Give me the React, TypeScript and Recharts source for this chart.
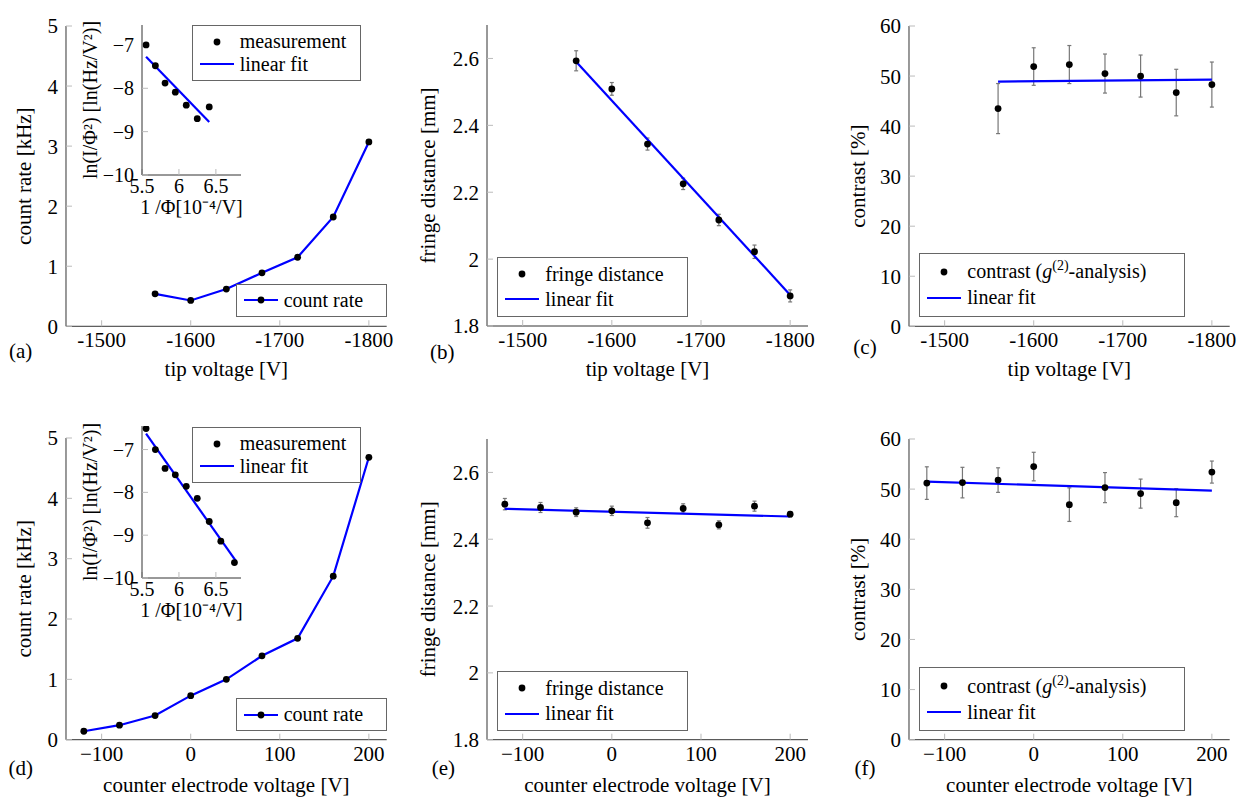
import React from "react";
import {
  ComposedChart,
  ErrorBar,
  Label,
  Legend,
  Line,
  Scatter,
  XAxis,
  YAxis,
} from "recharts";

const FONT = "Liberation Serif";
const BLUE = "#0000ff";

// top row: tip voltage scan
const tipVoltage = [-1560, -1600, -1640, -1680, -1720, -1760, -1800];
const tipCountRate = [0.54, 0.43, 0.62, 0.89, 1.15, 1.82, 3.07];
const tipFringe = [2.593, 2.509, 2.344, 2.225, 2.117, 2.022, 1.89];
const tipFringeErr = [0.03, 0.019, 0.018, 0.017, 0.017, 0.02, 0.018];
const tipFringeFitX = [-1560, -1800];
const tipFringeFitY = [2.59, 1.893];
const tipContrast = [43.5, 51.9, 52.3, 50.5, 50.0, 46.7, 48.3];
const tipContrastErr = [5.0, 3.75, 3.8, 3.9, 4.2, 4.65, 4.5];
const tipContrastFitX = [-1560, -1800];
const tipContrastFitY = [48.9, 49.3];

// Fowler-Nordheim inset, tip scan
const tipInvPhi = [5.555, 5.681, 5.812, 5.951, 6.099, 6.248, 6.41];
const tipLnI = [-7.0, -7.48, -7.88, -8.09, -8.39, -8.7, -8.43];
const tipLnFitX = [5.555, 6.41];
const tipLnFitY = [-7.27, -8.78];

// bottom row: counter electrode scan
const ceVoltage = [-120, -80, -40, 0, 40, 80, 120, 160, 200];
const ceCountRate = [0.14, 0.24, 0.4, 0.73, 1.0, 1.39, 1.68, 2.71, 4.68];
const ceFringe = [2.505, 2.495, 2.481, 2.485, 2.449, 2.492, 2.443, 2.499, 2.475];
const ceFringeErr = [0.017, 0.015, 0.013, 0.014, 0.016, 0.014, 0.012, 0.015, 0.008];
const ceFringeFitX = [-120, 200];
const ceFringeFitY = [2.491, 2.468];
const ceContrast = [51.2, 51.3, 51.8, 54.5, 46.9, 50.3, 49.1, 47.3, 53.4];
const ceContrastErr = [3.25, 3.05, 2.45, 2.85, 3.35, 3.0, 2.9, 2.8, 2.2];
const ceContrastFitX = [-120, 200];
const ceContrastFitY = [51.5, 49.7];

// Fowler-Nordheim inset, counter electrode scan
const ceInvPhi = [5.555, 5.681, 5.812, 5.951, 6.099, 6.248, 6.41, 6.567, 6.751];
const ceLnI = [-6.51, -7.0, -7.44, -7.59, -7.86, -8.14, -8.68, -9.14, -9.64];
const ceLnFitX = [5.555, 6.77];
const ceLnFitY = [-6.63, -9.6];

const tipTicks = [-1500, -1600, -1700, -1800];
const ceTicks = [-100, 0, 100, 200];
const rateTicks = [0, 1, 2, 3, 4, 5];
const fringeTicks = [1.8, 2, 2.2, 2.4, 2.6];
const contrastTicks = [0, 10, 20, 30, 40, 50, 60];
const invPhiTicks = [5.5, 6, 6.5];
const lnTicks = [-10, -9, -8, -7];

const zip = (xs: number[], ys: number[], es?: number[]) =>
  xs.map((x, i) => ({ x, y: ys[i], e: es ? es[i] : 0 }));

const plain = (v: number) => String(v);
const minus = (v: number) => (v < 0 ? `\u2212${-v}` : String(v));

type Mark = "dot" | "line" | "linedot";
type Row = { label: React.ReactNode; mark: Mark };

const g2 = (
  <>
    contrast (<i>g</i>
    <sup style={{ fontSize: "0.7em", lineHeight: 0 }}>(2)</sup>-analysis)
  </>
);
const fitRows: Row[] = [
  { label: "measurement", mark: "dot" },
  { label: "linear fit", mark: "line" },
];

function BoxLegend({ rows, w, h, rowH }: { rows: Row[]; w: number; h: number; rowH: number }) {
  return (
    <div
      style={{
        width: w,
        height: h,
        boxSizing: "border-box",
        border: "1px solid #666",
        background: "#fff",
        display: "flex",
        flexDirection: "column",
        justifyContent: "center",
        fontFamily: FONT,
        fontSize: 20,
        color: "#000",
      }}
    >
      {rows.map((r, i) => (
        <div key={i} style={{ display: "flex", alignItems: "center", height: rowH }}>
          <svg width={47} height={12} style={{ flex: "none" }}>
            {r.mark !== "dot" && (
              <line x1={7} x2={41} y1={6} y2={6} stroke={BLUE} strokeWidth={2.2} />
            )}
            {r.mark !== "line" && <circle cx={24} cy={6} r={3.4} fill="#000" />}
          </svg>
          <span style={{ whiteSpace: "nowrap" }}>{r.label}</span>
        </div>
      ))}
    </div>
  );
}

const PAD_L = 70;
const PAD_T = 12;
const PAD_R = 30;
const PAD_B = 70;

type PanelProps = {
  plot: [number, number, number, number];
  xDomain: [number, number];
  yDomain: [number, number];
  xTicks: number[];
  yTicks: number[];
  fmtX: (v: number) => string;
  fmtY: (v: number) => string;
  reversed?: boolean;
  xTickGap?: number;
  fontSize?: number;
  xLabel: string;
  yLabel: string;
  xLabelY: number;
  yLabelX: number;
  legend: { at: [number, number, number, number]; rows: Row[]; rowH: number };
  children: React.ReactNode;
};

function Panel(p: PanelProps) {
  const [x0, y0, x1, y1] = p.plot;
  const left = x0 - PAD_L;
  const top = y0 - PAD_T;
  const width = PAD_L + (x1 - x0) + PAD_R;
  const height = PAD_T + (y1 - y0) + PAD_B;
  const [lx, ly, lw, lh] = p.legend.at;
  const fs = p.fontSize ?? 21;
  const textStyle = { fontFamily: FONT, fontSize: fs, fill: "#000" };
  return (
    <div style={{ position: "absolute", left, top }}>
      <ComposedChart
        width={width}
        height={height}
        margin={{ top: PAD_T, right: PAD_R, bottom: 0, left: 0 }}
      >
        <XAxis
          type="number"
          dataKey="x"
          domain={p.xDomain}
          ticks={p.xTicks}
          interval={0}
          reversed={p.reversed}
          allowDataOverflow
          height={PAD_B}
          stroke="#333"
          tickSize={-6}
          tickMargin={p.xTickGap ?? 12}
          tickLine={{ stroke: "#bbb" }}
          tick={textStyle}
          tickFormatter={p.fmtX}
        >
          <Label
            value={p.xLabel}
            position="insideBottom"
            offset={top + height - (p.xLabelY + fs * 0.25)}
            style={textStyle}
          />
        </XAxis>
        <YAxis
          type="number"
          domain={p.yDomain}
          ticks={p.yTicks}
          interval={0}
          allowDataOverflow
          width={PAD_L}
          stroke="#333"
          tickSize={-6}
          tickMargin={14}
          tickLine={{ stroke: "#bbb" }}
          tick={textStyle}
          tickFormatter={p.fmtY}
        >
          <Label
            value={p.yLabel}
            angle={-90}
            position="insideLeft"
            offset={p.yLabelX - left}
            style={{ ...textStyle, textAnchor: "middle" }}
          />
        </YAxis>
        <Legend
          layout="vertical"
          align="center"
          verticalAlign="middle"
          wrapperStyle={{ left: lx - left, top: ly - top, width: lw, height: lh }}
          content={() => (
            <BoxLegend rows={p.legend.rows} w={lw} h={lh} rowH={p.legend.rowH} />
          )}
        />
        {p.children}
      </ComposedChart>
    </div>
  );
}

const dotShape = (props: any) => <circle cx={props.cx} cy={props.cy} r={3.4} fill="#000" />;

function measured(data: { x: number; y: number; e: number }[], withErr: boolean) {
  return (
    <Scatter data={data} dataKey="y" shape={dotShape} isAnimationActive={false}>
      {withErr && (
        <ErrorBar
          dataKey="e"
          direction="y"
          width={2}
          stroke="#777"
          strokeWidth={1.2}
          isAnimationActive={false}
        />
      )}
    </Scatter>
  );
}

function fit(data: { x: number; y: number }[]) {
  return (
    <Line
      data={data}
      dataKey="y"
      type="linear"
      stroke={BLUE}
      strokeWidth={2.2}
      dot={false}
      isAnimationActive={false}
    />
  );
}

function rateLine(data: { x: number; y: number }[]) {
  return (
    <Line
      data={data}
      dataKey="y"
      type="linear"
      stroke={BLUE}
      strokeWidth={2.2}
      dot={{ r: 3.4, fill: "#000", stroke: "#000", strokeWidth: 0 }}
      isAnimationActive={false}
    />
  );
}

function Tag({ text, x, y }: { text: string; x: number; y: number }) {
  return (
    <div
      style={{
        position: "absolute",
        left: x,
        top: y,
        transform: "translate(-50%, -50%)",
        fontFamily: FONT,
        fontSize: 21,
      }}
    >
      {text}
    </div>
  );
}

export default function App() {
  const tipX: [number, number] = [-1820, -1460];
  const ceX: [number, number] = [-140, 220];
  return (
    <div
      style={{
        position: "absolute",
        left: 0,
        top: 0,
        width: 1244,
        height: 806,
        background: "#fff",
        overflow: "hidden",
      }}
    >
      {/* (a) count rate vs tip voltage */}
      <Panel
        plot={[66, 25.7, 386.7, 326]}
        xDomain={tipX}
        yDomain={[0, 5]}
        xTicks={tipTicks}
        yTicks={rateTicks}
        fmtX={plain}
        fmtY={plain}
        reversed
        xLabel="tip voltage [V]"
        yLabel="count rate [kHz]"
        xLabelY={370}
        yLabelX={24}
        legend={{ at: [235.7, 284.3, 151, 32.4], rows: [{ label: "count rate", mark: "linedot" }], rowH: 24 }}
      >
        {rateLine(zip(tipVoltage, tipCountRate))}
      </Panel>
      <Panel
        plot={[141.6, 25, 240.6, 175]}
        xDomain={[5.5, 6.84]}
        yDomain={[-10, -6.54]}
        xTicks={invPhiTicks}
        yTicks={lnTicks}
        fmtX={plain}
        fmtY={minus}
        xTickGap={10}
        fontSize={20}
        xLabel={"1 /\u03a6[10\u207b\u2074/V]"}
        yLabel={"ln(I/\u03a6\u00b2) [ln(Hz/V\u00b2)]"}
        xLabelY={208.5}
        yLabelX={90}
        legend={{ at: [191.7, 25, 169, 56], rows: fitRows, rowH: 22.6 }}
      >
        {measured(zip(tipInvPhi, tipLnI), false)}
        {fit(zip(tipLnFitX, tipLnFitY))}
      </Panel>

      {/* (b) fringe distance vs tip voltage */}
      <Panel
        plot={[487.3, 25, 808.3, 326]}
        xDomain={tipX}
        yDomain={[1.8, 2.7]}
        xTicks={tipTicks}
        yTicks={fringeTicks}
        fmtX={plain}
        fmtY={plain}
        reversed
        xLabel="tip voltage [V]"
        yLabel="fringe distance [mm]"
        xLabelY={370.7}
        yLabelX={428.3}
        legend={{
          at: [497.3, 256.7, 191, 60],
          rows: [
            { label: "fringe distance", mark: "dot" },
            { label: "linear fit", mark: "line" },
          ],
          rowH: 25.3,
        }}
      >
        {measured(zip(tipVoltage, tipFringe, tipFringeErr), true)}
        {fit(zip(tipFringeFitX, tipFringeFitY))}
      </Panel>

      {/* (c) contrast vs tip voltage */}
      <Panel
        plot={[909.3, 25.7, 1230, 326]}
        xDomain={tipX}
        yDomain={[0, 60]}
        xTicks={tipTicks}
        yTicks={contrastTicks}
        fmtX={plain}
        fmtY={plain}
        reversed
        xLabel="tip voltage [V]"
        yLabel="contrast [%]"
        xLabelY={370.7}
        yLabelX={858.3}
        legend={{
          at: [919.3, 252.7, 266, 64],
          rows: [
            { label: g2, mark: "dot" },
            { label: "linear fit", mark: "line" },
          ],
          rowH: 26,
        }}
      >
        {measured(zip(tipVoltage, tipContrast, tipContrastErr), true)}
        {fit(zip(tipContrastFitX, tipContrastFitY))}
      </Panel>

      {/* (d) count rate vs counter electrode voltage */}
      <Panel
        plot={[66, 438.3, 386.7, 740]}
        xDomain={ceX}
        yDomain={[0, 5]}
        xTicks={ceTicks}
        yTicks={rateTicks}
        fmtX={minus}
        fmtY={plain}
        xLabel="counter electrode voltage [V]"
        yLabel="count rate [kHz]"
        xLabelY={786.7}
        yLabelX={24}
        legend={{ at: [235.7, 698.3, 151, 32.7], rows: [{ label: "count rate", mark: "linedot" }], rowH: 24 }}
      >
        {rateLine(zip(ceVoltage, ceCountRate))}
      </Panel>
      <Panel
        plot={[141.6, 425.7, 240.6, 577.7]}
        xDomain={[5.5, 6.84]}
        yDomain={[-10, -6.45]}
        xTicks={invPhiTicks}
        yTicks={lnTicks}
        fmtX={plain}
        fmtY={minus}
        xTickGap={10}
        fontSize={20}
        xLabel={"1 /\u03a6[10\u207b\u2074/V]"}
        yLabel={"ln(I/\u03a6\u00b2) [ln(Hz/V\u00b2)]"}
        xLabelY={611.5}
        yLabelX={90}
        legend={{ at: [191.7, 427.3, 169, 55.4], rows: fitRows, rowH: 22.6 }}
      >
        {measured(zip(ceInvPhi, ceLnI), false)}
        {fit(zip(ceLnFitX, ceLnFitY))}
      </Panel>

      {/* (e) fringe distance vs counter electrode voltage */}
      <Panel
        plot={[487.3, 439.3, 808.3, 740]}
        xDomain={ceX}
        yDomain={[1.8, 2.7]}
        xTicks={ceTicks}
        yTicks={fringeTicks}
        fmtX={minus}
        fmtY={plain}
        xLabel="counter electrode voltage [V]"
        yLabel="fringe distance [mm]"
        xLabelY={786.7}
        yLabelX={428.3}
        legend={{
          at: [497.3, 671, 191, 60],
          rows: [
            { label: "fringe distance", mark: "dot" },
            { label: "linear fit", mark: "line" },
          ],
          rowH: 25.3,
        }}
      >
        {measured(zip(ceVoltage, ceFringe, ceFringeErr), true)}
        {fit(zip(ceFringeFitX, ceFringeFitY))}
      </Panel>

      {/* (f) contrast vs counter electrode voltage */}
      <Panel
        plot={[909.3, 439.3, 1230, 740]}
        xDomain={ceX}
        yDomain={[0, 60]}
        xTicks={ceTicks}
        yTicks={contrastTicks}
        fmtX={minus}
        fmtY={plain}
        xLabel="counter electrode voltage [V]"
        yLabel="contrast [%]"
        xLabelY={786.7}
        yLabelX={858.3}
        legend={{
          at: [919.3, 667.3, 266, 64],
          rows: [
            { label: g2, mark: "dot" },
            { label: "linear fit", mark: "line" },
          ],
          rowH: 26,
        }}
      >
        {measured(zip(ceVoltage, ceContrast, ceContrastErr), true)}
        {fit(zip(ceContrastFitX, ceContrastFitY))}
      </Panel>

      <Tag text="(a)" x={20.7} y={351} />
      <Tag text="(b)" x={442.3} y={351.7} />
      <Tag text="(c)" x={865} y={347} />
      <Tag text="(d)" x={20.7} y={768.3} />
      <Tag text="(e)" x={443.3} y={768.3} />
      <Tag text="(f)" x={865} y={768.3} />
    </div>
  );
}
